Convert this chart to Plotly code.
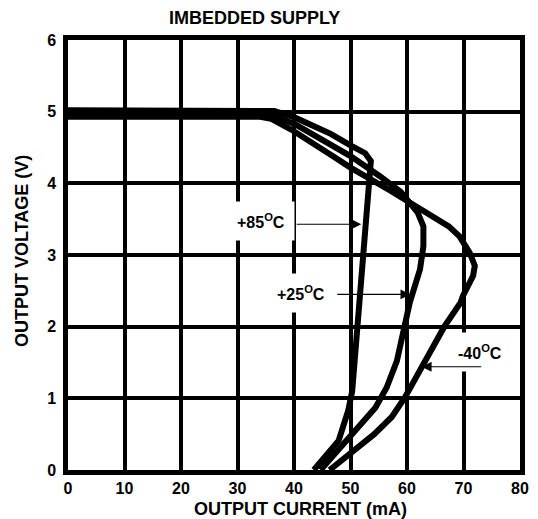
import plotly.graph_objects as go

# Output current (mA) / output voltage (V) for each temperature
i_85 = [0, 20, 36.5, 40.1, 46.5, 50.0, 52.6, 53.6, 53.3, 52.9, 52.2, 51.5, 51.0, 50.8, 50.3, 49.6, 47.9, 43.5]
v_85 = [5.02, 5.02, 5.01, 4.92, 4.69, 4.53, 4.42, 4.31, 4.0, 3.6, 3.0, 2.4, 1.89, 1.43, 1.1, 0.83, 0.41, 0.0]

i_25 = [0, 20, 34.0, 36.0, 40.1, 47.1, 50.0, 55.2, 58.9, 61.9, 62.9, 62.9, 62.3, 60.5, 59.6, 58.2, 56.4, 54.4, 44.7]
v_25 = [4.97, 4.97, 4.97, 4.95, 4.83, 4.50, 4.38, 4.10, 3.88, 3.59, 3.40, 3.12, 2.80, 2.34, 2.0, 1.52, 1.15, 0.87, 0.0]

i_m40 = [0, 20, 34.0, 36.0, 39.5, 46.5, 50.0, 57.0, 62.0, 67.4, 69.3, 71.1, 72.0, 71.7, 69.9, 69.5, 66.6, 63.1, 59.6, 57.3, 54.2, 46.3]
v_m40 = [4.93, 4.93, 4.93, 4.90, 4.75, 4.40, 4.22, 3.90, 3.66, 3.40, 3.26, 3.03, 2.85, 2.71, 2.43, 2.34, 2.0, 1.52, 1.01, 0.74, 0.50, 0.0]

x_ticks = [0, 10, 20, 30, 40, 50, 60, 70, 80]
y_ticks = [0, 1, 2, 3, 4, 5, 6]

labels = ["+85<sup>O</sup>C", "+25<sup>O</sup>C", "-40<sup>O</sup>C"]
label_x = [34.2, 41.3, 72.9]
label_y = [3.48, 2.47, 1.64]
arrow_tail_x = [40.2, 47.4, 73.4]
arrow_tail_y = [3.43, 2.45, 1.44]
arrow_tip_x = [51.9, 60.6, 62.6]
arrow_tip_y = [3.43, 2.45, 1.44]

FONT = "Liberation Sans, Arial, sans-serif"
L, R, T, B = 60, 26, 32, 57
W, H = 538, 519
PW, PH = W - L - R, H - T - B


def px_x(page_x):
    return (page_x - 8 - L) / PW


def px_y(page_y):
    return (H - B - (page_y - 8)) / PH


fig = go.Figure()
for xs, ys in [(i_85, v_85), (i_25, v_25), (i_m40, v_m40)]:
    fig.add_trace(go.Scatter(x=xs, y=ys, mode="lines",
                             line=dict(color="black", width=6),
                             showlegend=False, hoverinfo="skip"))

annotations = []
for t, lx, ly in zip(labels, label_x, label_y):
    annotations.append(dict(x=lx, y=ly, xref="x", yref="y", text="<b>" + t + "</b>", showarrow=False,
                            font=dict(family=FONT, size=16, color="black"),
                            bgcolor="white", borderpad=9))
for tx, ty, hx, hy in zip(arrow_tail_x, arrow_tail_y, arrow_tip_x, arrow_tip_y):
    annotations.append(dict(x=hx, y=hy, ax=tx, ay=ty, xref="x", yref="y", axref="x", ayref="y",
                            text="", showarrow=True, arrowhead=2, arrowsize=1.8,
                            arrowwidth=1.1, arrowcolor="black"))
annotations.append(dict(x=px_x(254), y=px_y(18), xref="paper", yref="paper",
                        text="<b>IMBEDDED SUPPLY</b>", showarrow=False,
                        xanchor="center", yanchor="middle",
                        font=dict(family=FONT, size=18, color="black")))
annotations.append(dict(x=px_x(300), y=px_y(508.5), xref="paper", yref="paper",
                        text="<b>OUTPUT CURRENT (mA)</b>", showarrow=False,
                        xanchor="center", yanchor="middle",
                        font=dict(family=FONT, size=18, color="black")))
annotations.append(dict(x=px_x(21.5), y=px_y(251.5), xref="paper", yref="paper",
                        text="<b>OUTPUT VOLTAGE (V)</b>", showarrow=False, textangle=-90,
                        xanchor="center", yanchor="middle",
                        font=dict(family=FONT, size=18, color="black")))

fig.update_layout(
    width=W, height=H,
    margin=dict(l=L, r=R, t=T, b=B),
    paper_bgcolor="white", plot_bgcolor="white",
    font=dict(family=FONT, color="black"),
    annotations=annotations,
)

fig.update_xaxes(range=[0, 80], tickvals=x_ticks, ticktext=["<b>%d</b>" % v for v in x_ticks],
                 showgrid=True, gridcolor="black", gridwidth=3.5,
                 zeroline=False, showline=True, linecolor="black", linewidth=4.5, mirror=True,
                 ticks="", ticklabelstandoff=0, tickfont=dict(family=FONT, size=16, color="black"))
fig.update_yaxes(range=[0, 6], tickvals=y_ticks, ticktext=["<b>%d</b>" % v for v in y_ticks],
                 showgrid=True, gridcolor="black", gridwidth=3.5,
                 zeroline=False, showline=True, linecolor="black", linewidth=4.5, mirror=True,
                 ticks="", ticklabelstandoff=4, tickfont=dict(family=FONT, size=16, color="black"))

fig.write_html("out.html")
